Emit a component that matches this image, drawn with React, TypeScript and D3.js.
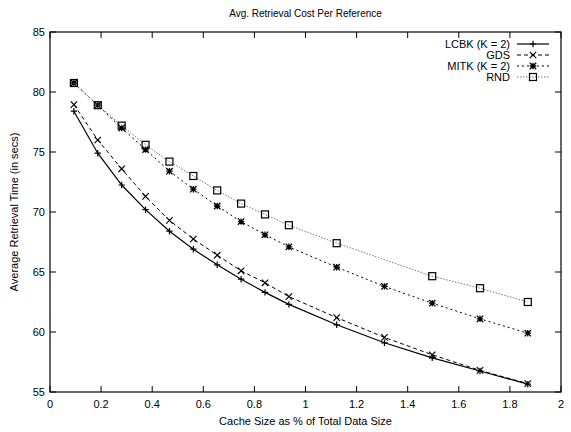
import React from "react";
import * as d3 from "d3";

const xValues = [0.0935, 0.187, 0.2805, 0.374, 0.4675, 0.561, 0.6545, 0.748, 0.8415, 0.935, 1.122, 1.309, 1.496, 1.683, 1.87];
const lcbk = [78.4, 74.9, 72.25, 70.2, 68.4, 66.9, 65.6, 64.4, 63.3, 62.3, 60.6, 59.1, 57.85, 56.75, 55.65];
const gds = [78.95, 76.0, 73.6, 71.3, 69.3, 67.75, 66.4, 65.1, 64.1, 62.95, 61.2, 59.55, 58.1, 56.8, 55.7];
const mitk = [80.75, 78.9, 77.0, 75.2, 73.4, 71.9, 70.5, 69.2, 68.1, 67.1, 65.4, 63.8, 62.4, 61.1, 59.9];
// RND has no measurement at 1.309
const rnd: (number | null)[] = [80.75, 78.9, 77.2, 75.6, 74.2, 73.0, 71.8, 70.7, 69.8, 68.9, 67.4, null, 64.65, 63.65, 62.5];

const seriesNames = ["LCBK (K = 2)", "GDS", "MITK (K = 2)", "RND"];
const xTicks = [0, 0.2, 0.4, 0.6, 0.8, 1, 1.2, 1.4, 1.6, 1.8, 2];
const yTicks = [55, 60, 65, 70, 75, 80, 85];

const W = 571, H = 432;
const L = 50, R = 561, T = 32, B = 392;

const styles = [
  { stroke: "#000", width: 1.2, dash: "", marker: "plus" },
  { stroke: "#000", width: 1, dash: "4,3", marker: "x" },
  { stroke: "#000", width: 1, dash: "2,3", marker: "star" },
  { stroke: "#777", width: 1, dash: "1.5,1.5", marker: "square" },
];

function Marker({ type, x, y, color }: { type: string; x: number; y: number; color: string }) {
  const s = 3.2;
  if (type === "plus")
    return <path d={`M${x - s},${y}H${x + s}M${x},${y - s}V${y + s}`} stroke={color} strokeWidth={1.2} fill="none" />;
  if (type === "x")
    return <path d={`M${x - s},${y - s}L${x + s},${y + s}M${x - s},${y + s}L${x + s},${y - s}`} stroke={color} strokeWidth={1.2} fill="none" />;
  if (type === "star")
    return (
      <path
        d={`M${x - s},${y}H${x + s}M${x},${y - s}V${y + s}M${x - s},${y - s}L${x + s},${y + s}M${x - s},${y + s}L${x + s},${y - s}`}
        stroke={color}
        strokeWidth={1.3}
        fill="none"
      />
    );
  return <rect x={x - 3.5} y={y - 3.5} width={7} height={7} stroke="#000" strokeWidth={1.2} fill="none" />;
}

export default function App() {
  const x = d3.scaleLinear().domain([0, 2]).range([L, R]);
  const y = d3.scaleLinear().domain([55, 85]).range([B, T]);
  const data: (number | null)[][] = [lcbk, gds, mitk, rnd];
  const line = d3
    .line<[number, number]>()
    .x((d) => x(d[0]))
    .y((d) => y(d[1]))
    .curve(d3.curveLinear);
  const font = "'Liberation Sans', Arial, sans-serif";
  const tl = 6;
  const legendY = [44, 55, 66, 77];
  return (
    <svg width={W} height={H} style={{ position: "absolute", left: 0, top: 0, background: "#fff" }} fontFamily={font}>
      <rect x={0} y={0} width={W} height={H} fill="#fff" />
      <text x={(L + R) / 2} y={17} textAnchor="middle" fontSize={10}>
        Avg. Retrieval Cost Per Reference
      </text>
      {xTicks.map((t) => (
        <g key={"xt" + t}>
          <line x1={x(t)} x2={x(t)} y1={B} y2={B - tl} stroke="#000" />
          <line x1={x(t)} x2={x(t)} y1={T} y2={T + tl} stroke="#000" />
          <text x={x(t)} y={B + 16} textAnchor="middle" fontSize={11}>
            {t}
          </text>
        </g>
      ))}
      {yTicks.map((t) => (
        <g key={"yt" + t}>
          <line x1={L} x2={L + tl} y1={y(t)} y2={y(t)} stroke="#000" />
          <line x1={R} x2={R - tl} y1={y(t)} y2={y(t)} stroke="#000" />
          <text x={L - 5} y={y(t) + 4} textAnchor="end" fontSize={11}>
            {t}
          </text>
        </g>
      ))}
      <rect x={L} y={T} width={R - L} height={B - T} fill="none" stroke="#000" strokeWidth={1.2} />
      <text x={(L + R) / 2} y={425} textAnchor="middle" fontSize={11}>
        Cache Size as % of Total Data Size
      </text>
      <text transform={`translate(18,${(T + B) / 2}) rotate(-90)`} textAnchor="middle" fontSize={11}>
        Average Retrieval Time (in secs)
      </text>
      {data.map((vals, i) => {
        const pts = xValues
          .map((xv, j) => [xv, vals[j]] as [number, number | null])
          .filter((p) => p[1] !== null) as [number, number][];
        const st = styles[i];
        return (
          <g key={"s" + i}>
            <path d={line(pts) || ""} fill="none" stroke={st.stroke} strokeWidth={st.width} strokeDasharray={st.dash} />
            {pts.map((p, j) => (
              <Marker key={j} type={st.marker} x={x(p[0])} y={y(p[1])} color="#000" />
            ))}
          </g>
        );
      })}
      {seriesNames.map((n, i) => {
        const st = styles[i];
        return (
          <g key={"lg" + i}>
            <text x={510} y={legendY[i] + 4} textAnchor="end" fontSize={11}>
              {n}
            </text>
            <line x1={517} x2={549} y1={legendY[i]} y2={legendY[i]} stroke={st.stroke} strokeWidth={st.width} strokeDasharray={st.dash} />
            <Marker type={st.marker} x={533} y={legendY[i]} color="#000" />
          </g>
        );
      })}
    </svg>
  );
}
